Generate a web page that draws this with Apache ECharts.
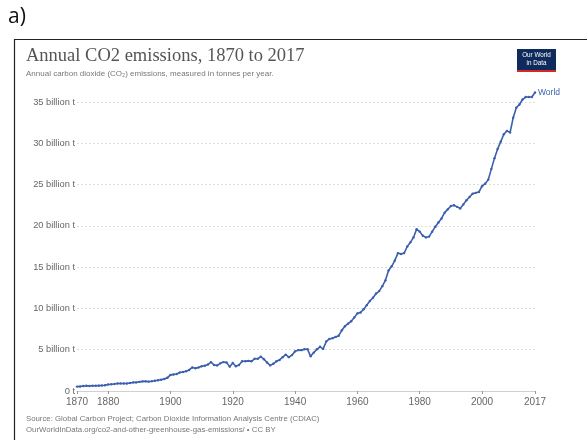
<!DOCTYPE html>
<html>
<head>
<meta charset="utf-8">
<script src="https://cdn.jsdelivr.net/npm/echarts@6/dist/echarts.min.js"></script>
<style>
  html, body { margin: 0; padding: 0; background: #fff; }
  #chart { width: 587px; height: 440px; }
</style>
</head>
<body>
<div id="chart"></div>
<script>
// Years 1870..2017
var years = [];
for (var y = 1870; y <= 2017; y++) years.push(y);

// World annual CO2 emissions, billion tonnes
var emissions = [
  0.53, 0.55, 0.60, 0.63, 0.60, 0.63, 0.64, 0.65, 0.66, 0.70,   // 1870-1879
  0.79, 0.81, 0.85, 0.90, 0.90, 0.90, 0.91, 0.96, 1.04, 1.04,   // 1880-1889
  1.11, 1.16, 1.17, 1.14, 1.19, 1.25, 1.30, 1.36, 1.45, 1.60,   // 1890-1899
  1.95, 2.00, 2.05, 2.25, 2.30, 2.40, 2.55, 2.85, 2.75, 2.85,   // 1900-1909
  3.00, 3.05, 3.20, 3.50, 3.15, 3.10, 3.35, 3.50, 3.45, 2.95,   // 1910-1919
  3.40, 3.00, 3.15, 3.60, 3.60, 3.65, 3.60, 3.90, 3.90, 4.15,   // 1920-1929
  3.85, 3.45, 3.10, 3.30, 3.60, 3.75, 4.10, 4.40, 4.10, 4.35,   // 1930-1939
  4.80, 4.95, 4.95, 5.05, 5.05, 4.20, 4.65, 5.05, 5.35, 5.10,   // 1940-1949
  6.00, 6.30, 6.40, 6.55, 6.70, 7.35, 7.85, 8.15, 8.45, 8.90,   // 1950-1959
  9.40, 9.50, 9.90, 10.40, 10.90, 11.30, 11.80, 12.10, 12.70, 13.40, // 1960-1969
  14.60, 15.10, 15.80, 16.70, 16.60, 16.70, 17.50, 18.00, 18.60, 19.60, // 1970-1979
  19.30, 18.80, 18.60, 18.70, 19.30, 19.90, 20.40, 20.90, 21.60, 22.00, // 1980-1989
  22.40, 22.50, 22.30, 22.10, 22.60, 23.10, 23.50, 23.90, 24.00, 24.10, // 1990-1999
  24.80, 25.10, 25.60, 26.90, 28.20, 29.30, 30.20, 31.10, 31.50, 31.30, // 2000-2009
  33.10, 34.30, 34.70, 35.30, 35.60, 35.60, 35.60, 36.15              // 2010-2017
];

var xTickYears = [1870, 1880, 1900, 1920, 1940, 1960, 1980, 2000, 2017];
var yTicks = [0, 5, 10, 15, 20, 25, 30, 35];
var seriesName = 'World';

var titleText = 'Annual CO2 emissions, 1870 to 2017';
var subtitleText = 'Annual carbon dioxide (CO\u2082) emissions, measured in tonnes per year.';
var sourceLine1 = 'Source: Global Carbon Project; Carbon Dioxide Information Analysis Centre (CDIAC)';
var sourceLine2 = 'OurWorldInData.org/co2-and-other-greenhouse-gas-emissions/ \u2022 CC BY';

var seriesData = years.map(function (yr, i) { return [yr, emissions[i]]; });

var chart = echarts.init(document.getElementById('chart'), null, { renderer: 'canvas' });
var blue = '#3b5fae';
var sans = '"Liberation Sans", Arial, sans-serif';

chart.setOption({
  animation: false,
  backgroundColor: '#ffffff',
  grid: { left: 77, right: 52, top: 102, bottom: 49, containLabel: false },
  xAxis: {
    type: 'value',
    min: 1870, max: 2017,
    axisLine: { show: true, lineStyle: { color: '#d0d0d0', width: 1 } },
    axisTick: { show: true, customValues: xTickYears, length: 3, lineStyle: { color: '#999' } },
    axisLabel: { customValues: xTickYears, color: '#666', fontSize: 10, fontFamily: sans, margin: 6,
                 formatter: function (v) { return String(v); } },
    splitLine: { show: false }
  },
  yAxis: {
    type: 'value',
    min: 0, max: 35, interval: 5,
    axisLine: { show: false },
    axisTick: { show: false },
    axisLabel: { color: '#666', fontSize: 9.3, fontFamily: sans, margin: 2,
                 formatter: function (v) { return v === 0 ? '0 t' : v + ' billion t'; } },
    splitLine: { show: true, lineStyle: { color: '#dcdcdc', type: [2, 2], width: 1 } }
  },
  series: [{
    name: seriesName,
    type: 'line',
    data: seriesData,
    clip: false,
    showSymbol: true,
    symbol: 'circle',
    symbolSize: 2.4,
    itemStyle: { color: blue },
    lineStyle: { color: blue, width: 1.6 },
    endLabel: { show: true, formatter: seriesName, color: blue, fontSize: 8.5, fontFamily: sans, distance: 3 }
  }],
  graphic: [
    { type: 'text', left: 8, top: 7, style: { text: 'a)', fontSize: 21, fontFamily: '"Open Sans", "Liberation Sans", sans-serif', fill: '#111' } },
    { type: 'rect', shape: { x: 14.5, y: 39.5, width: 620, height: 450 }, style: { fill: 'none', stroke: '#222', lineWidth: 1.2 } },
    { type: 'text', left: 26, top: 47, style: { text: titleText, fontSize: 18.5, fontFamily: '"Liberation Serif", "DejaVu Serif", serif', fill: '#555' } },
    { type: 'text', left: 26, top: 70, style: { text: subtitleText, fontSize: 8, fontFamily: sans, fill: '#777' } },
    { type: 'rect', shape: { x: 517, y: 49, width: 39, height: 22 }, style: { fill: '#0f2b5b' } },
    { type: 'rect', shape: { x: 517, y: 70, width: 39, height: 2 }, style: { fill: '#d22b27' } },
    { type: 'text', style: { x: 536.5, y: 59.5, text: 'Our World\nin Data', fontSize: 6.3, lineHeight: 7.5, fontFamily: sans, fill: '#ffffff', align: 'center', verticalAlign: 'middle' } },
    { type: 'text', left: 26, top: 415, style: { text: sourceLine1, fontSize: 7.8, fontFamily: sans, fill: '#777' } },
    { type: 'text', left: 26, top: 426, style: { text: sourceLine2, fontSize: 7.8, fontFamily: sans, fill: '#777' } }
  ]
});
</script>
</body>
</html>
